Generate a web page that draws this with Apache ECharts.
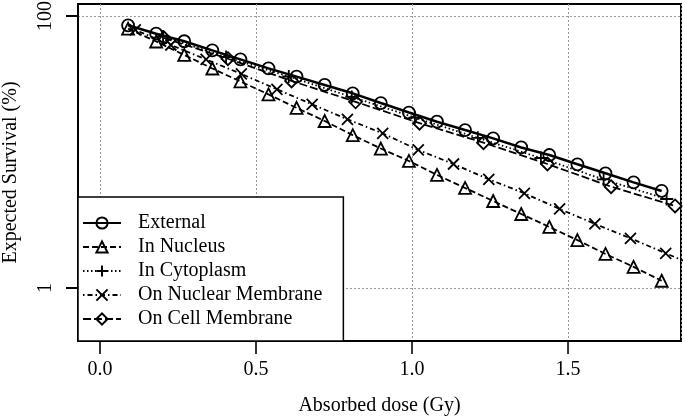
<!DOCTYPE html>
<html><head><meta charset="utf-8">
<script src="https://cdn.jsdelivr.net/npm/echarts@6/dist/echarts.min.js"></script>
<style>html,body{margin:0;padding:0;background:#fff}#c{width:685px;height:417px}</style>
</head><body><div id="c"></div>
<script>
const seriesNames = ['External', 'In Nucleus', 'In Cytoplasm', 'On Nuclear Membrane', 'On Cell Membrane'];
const doseExternal = [0.09,0.18,0.27,0.36,0.45,0.54,0.63,0.72,0.81,0.90,0.99,1.08,1.17,1.26,1.35,1.44,1.53,1.62,1.71,1.80];
const survExternal = [85.4,74.1,65.2,55.9,48.0,41.2,35.8,31.1,27.0,22.9,19.5,16.7,14.5,12.6,10.8,9.5,8.12,6.97,5.98,5.17];
const doseNucleus = [0.09,0.18,0.27,0.36,0.45,0.54,0.63,0.72,0.81,0.90,0.99,1.08,1.17,1.26,1.35,1.44,1.53,1.62,1.71,1.80];
const survNucleus = [80.7,64.9,51.7,41.1,33.0,26.5,21.1,16.9,13.3,10.6,8.59,6.78,5.44,4.36,3.50,2.81,2.25,1.78,1.43,1.13];
const doseCytoplasm = [0.202,0.404,0.605,0.807,1.009,1.211,1.413,1.614,1.816];
const survCytoplasm = [70.7,49.9,35.9,25.4,17.9,12.7,9.03,6.28,4.51];
const doseNuclearMembrane = [0.113,0.227,0.340,0.453,0.567,0.680,0.793,0.906,1.020,1.133,1.246,1.360,1.473,1.586,1.700,1.813,1.926];
const survNuclearMembrane = [78.9,61.2,47.9,37.5,28.9,22.4,17.4,13.7,10.35,8.16,6.30,4.97,3.81,2.96,2.32,1.80,1.40];
const doseCellMembrane = [0.205,0.410,0.614,0.819,1.024,1.229,1.434,1.638,1.843];
const survCellMembrane = [68.9,48.5,33.3,23.4,16.3,11.7,8.16,5.56,4.01];
const xTickValues = [0, 0.5, 1.0, 1.5];
const yTickValues = [1, 100];

const FONT = 'Liberation Serif';
const XMIN = -0.0705, XMAX = 1.862, YMIN = 0.4076, YMAX = 122.5;

function mk(name, xs, ys, symbol, size, lineType, width) {
  return {
    name: name, type: 'line', data: xs.map((x, i) => [x, ys[i]]),
    symbol: symbol, symbolSize: size, showSymbol: true, clip: true,
    lineStyle: { color: '#000', width: width, type: lineType },
    itemStyle: { color: 'rgba(0,0,0,0)', borderColor: '#000', borderWidth: 1.8 },
    emphasis: { disabled: true }
  };
}
const chart = echarts.init(document.getElementById('c'), null, { renderer: 'canvas' });
chart.setOption({
  animation: false,
  backgroundColor: '#fff',
  grid: { left: 78, right: 4, top: 4, bottom: 76, show: true, borderColor: '#000', borderWidth: 2,
          backgroundColor: 'rgba(0,0,0,0)', containLabel: false, outerBoundsMode: 'none' },
  xAxis: {
    type: 'value', min: XMIN, max: XMAX, splitNumber: 4,
    name: 'Absorbed dose (Gy)', nameLocation: 'middle', nameGap: 55,
    nameTextStyle: { fontFamily: FONT, fontSize: 20, color: '#000' },
    axisLine: { show: true, onZero: false, lineStyle: { color: '#000', width: 2 } },
    axisTick: { show: false },
    axisLabel: { fontFamily: FONT, fontSize: 20, color: '#000', margin: 19, customValues: xTickValues,
                 formatter: v => Number(v).toFixed(1) },
    splitLine: { show: true, lineStyle: { color: '#999', width: 1, type: [2, 2] } }
  },
  yAxis: {
    type: 'log', logBase: 10, min: YMIN, max: YMAX,
    name: 'Expected Survival (%)', nameLocation: 'middle', nameGap: 57,
    nameTextStyle: { fontFamily: FONT, fontSize: 20, color: '#000' },
    axisLine: { show: true, onZero: false, lineStyle: { color: '#000', width: 2 } },
    axisTick: { show: true, inside: false, length: 12, lineStyle: { color: '#000', width: 2 }, customValues: yTickValues },
    axisLabel: { fontFamily: FONT, fontSize: 20, color: '#000', margin: 22, rotate: 90, customValues: yTickValues,
                 formatter: v => String(Math.round(v)) },
    splitLine: { show: true, lineStyle: { color: '#999', width: 1, type: [2, 2] } }
  },
  legend: {
    orient: 'vertical', left: 78, top: 197, padding: [16, 21, 12, 4], itemGap: 4,
    itemWidth: 38, itemHeight: 14, backgroundColor: '#fff', borderColor: '#000', borderWidth: 1.5,
    selectedMode: false, data: seriesNames,
    textStyle: { fontFamily: FONT, fontSize: 20, color: '#000', padding: [0, 0, 0, 12] }
  },
  series: [
    mk(seriesNames[0], doseExternal, survExternal, 'circle', 12, 'solid', 2.5),
    mk(seriesNames[1], doseNucleus, survNucleus, 'triangle', 12, [6, 3], 1.8),
    mk(seriesNames[2], doseCytoplasm, survCytoplasm, 'path://M5,0L5,10M0,5L10,5', 13, [1.5, 2.5], 1.8),
    mk(seriesNames[3], doseNuclearMembrane, survNuclearMembrane, 'path://M0,0L10,10M10,0L0,10', 11, [1.5, 3, 5, 3], 1.8),
    mk(seriesNames[4], doseCellMembrane, survCellMembrane, 'diamond', 13, [8, 3], 1.8),
    {
      name: 'xTicks', type: 'scatter', data: xTickValues.map(v => [v, YMIN]),
      symbol: 'rect', symbolSize: [2, 12], symbolOffset: [0, 7], clip: false, silent: true,
      itemStyle: { color: '#000' }, emphasis: { disabled: true }, z: 5
    }
  ]
});
</script>
</body></html>
